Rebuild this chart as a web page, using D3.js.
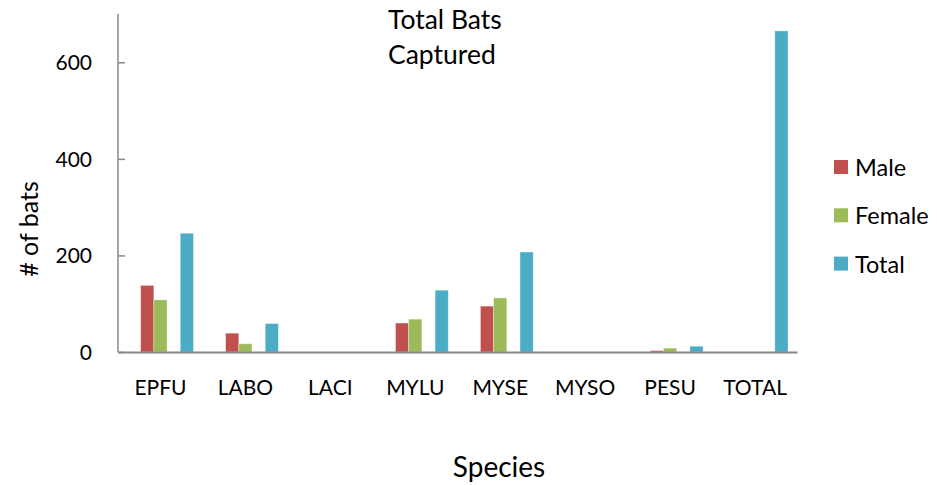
<!DOCTYPE html>
<html>
<head>
<meta charset="utf-8">
<script src="https://cdn.jsdelivr.net/npm/d3@7"></script>
<style>
  html, body { margin: 0; padding: 0; background: #fff; }
  svg { display: block; font-family: Lato, "Open Sans", sans-serif; }
</style>
</head>
<body>
<svg id="chart" width="937" height="485"></svg>
<script>
// Bat capture counts by species
const categories = ["EPFU", "LABO", "LACI", "MYLU", "MYSE", "MYSO", "PESU", "TOTAL"];
const maleCounts = [138, 39, 0, 60, 95, 0, 3, 0];
const femaleCounts = [108, 17, 0, 68, 112, 0, 8, 0];
const totalCounts = [246, 59, 0, 128, 207, 0, 12, 665];
const seriesNames = ["Male", "Female", "Total"];
const yTicks = [0, 200, 400, 600];

const colors = { Male: "#C0504D", Female: "#9BBB59", Total: "#4BACC6" };
const seriesValues = { Male: maleCounts, Female: femaleCounts, Total: totalCounts };
// Column slot for each series inside a category group (slots 0 and 3 stay empty)
const seriesSlot = { Male: 1, Female: 2, Total: 4 };

const svg = d3.select("#chart");
const plot = { left: 118, right: 797.5, top: 14, bottom: 352 };

const x = d3.scaleBand()
  .domain(categories)
  .range([plot.left, plot.right])
  .padding(0);

const groupWidth = 66;
const slot = d3.scaleBand()
  .domain(d3.range(5))
  .range([(x.bandwidth() - groupWidth) / 2, (x.bandwidth() + groupWidth) / 2])
  .padding(0);

const y = d3.scaleLinear().domain([0, 700]).range([plot.bottom, plot.top]);

// Bars
seriesNames.forEach(name => {
  svg.append("g")
    .selectAll("rect")
    .data(categories.map((c, i) => ({ c, v: seriesValues[name][i] })))
    .join("rect")
    .attr("x", d => x(d.c) + slot(seriesSlot[name]))
    .attr("width", slot.bandwidth())
    .attr("y", d => y(d.v))
    .attr("height", d => y(0) - y(d.v))
    .attr("fill", colors[name])
    .attr("stroke", "rgba(255,255,255,0.45)")
    .attr("stroke-width", 0.8);
});

// Y axis: ticks point into the plot
const yAxis = svg.append("g")
  .attr("transform", `translate(${plot.left},0)`)
  .call(d3.axisRight(y).tickValues(yTicks).tickSize(7).tickFormat(""));
yAxis.select(".domain").remove();
yAxis.selectAll("line").attr("stroke", "#888").attr("stroke-width", 1.5);
svg.append("line")
  .attr("x1", plot.left).attr("x2", plot.left)
  .attr("y1", plot.top).attr("y2", plot.bottom)
  .attr("stroke", "#888").attr("stroke-width", 1.5);

svg.append("g")
  .selectAll("text")
  .data(yTicks)
  .join("text")
  .attr("x", 92)
  .attr("y", d => y(d) + 8)
  .attr("text-anchor", "end")
  .attr("font-size", 21)
  .attr("fill", "#000")
  .text(d => d);

// X axis baseline
svg.append("line")
  .attr("x1", plot.left).attr("x2", plot.right)
  .attr("y1", plot.bottom + 0.5).attr("y2", plot.bottom + 0.5)
  .attr("stroke", "#888").attr("stroke-width", 2);

svg.append("g")
  .selectAll("text")
  .data(categories)
  .join("text")
  .attr("x", d => x(d) + x.bandwidth() / 2)
  .attr("y", 395)
  .attr("text-anchor", "middle")
  .attr("font-size", 21)
  .attr("fill", "#000")
  .text(d => d);

// Axis titles
svg.append("text")
  .attr("x", 499).attr("y", 477)
  .attr("text-anchor", "middle")
  .attr("font-size", 28)
  .attr("fill", "#000")
  .text("Species");

svg.append("text")
  .attr("transform", "translate(38,229) rotate(-90)")
  .attr("text-anchor", "middle")
  .attr("font-size", 25)
  .attr("fill", "#000")
  .text("# of bats");

// Chart title
const title = svg.append("text")
  .attr("x", 388)
  .attr("font-size", 26.5)
  .attr("fill", "#000");
title.append("tspan").attr("x", 388).attr("y", 29).text("Total Bats");
title.append("tspan").attr("x", 388).attr("y", 64).text("Captured");

// Legend
const legend = svg.append("g")
  .selectAll("g")
  .data(seriesNames)
  .join("g")
  .attr("transform", (d, i) => `translate(834,${160 + i * 48.3})`);
legend.append("rect")
  .attr("width", 14).attr("height", 14)
  .attr("fill", d => colors[d]);
legend.append("text")
  .attr("x", 21).attr("y", 16)
  .attr("font-size", 23.5)
  .attr("fill", "#000")
  .text(d => d);
</script>
</body>
</html>
